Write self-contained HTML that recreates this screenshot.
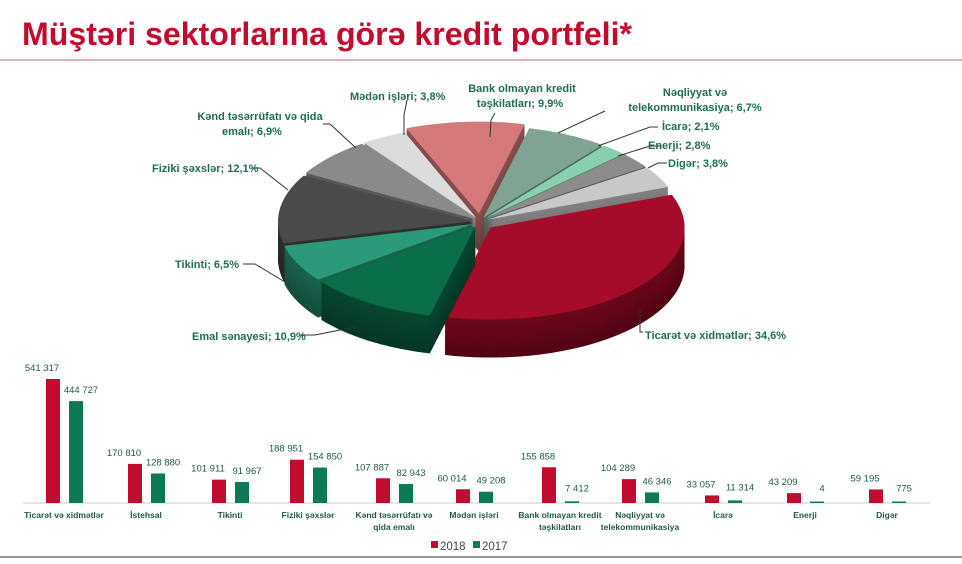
<!DOCTYPE html>
<html><head><meta charset="utf-8"><style>
body{margin:0;background:#fff;width:962px;height:559px;overflow:hidden;font-family:"Liberation Sans",sans-serif}
</style></head><body>
<svg id="s" width="962" height="559" xmlns="http://www.w3.org/2000/svg" font-family="Liberation Sans, sans-serif">
<text x="22" y="45" font-size="32" font-weight="bold" fill="#c00d2e" textLength="610" lengthAdjust="spacingAndGlyphs">Müştəri sektorlarına görə kredit portfeli*</text>
<line x1="0" y1="60" x2="962" y2="60" stroke="#c86070" stroke-width="1"/>
<line x1="0" y1="557" x2="962" y2="557" stroke="#999" stroke-width="2"/>
<g id="pie"></g>
<g stroke="#333" stroke-width="1" fill="none">
<polyline points="407,100 404,115 404,135"/>
<polyline points="495,113 491,120 490,137"/>
<polyline points="605,111 558,133"/>
<polyline points="658,127 650,127 598,146"/>
<polyline points="660,146 650,146 618,156"/>
<polyline points="667,163 658,163 648,168"/>
<polyline points="323,124 330,124 356,148"/>
<polyline points="252,168 260,168 288,190"/>
<polyline points="243,264 255,264 290,285"/>
<polyline points="300,335 315,335 355,327"/>
<polyline points="643,332 640,332 640,310"/>
</g>
<g font-size="11" font-weight="bold" fill="#1e6e4e">
<text x="350" y="100">Mədən işləri; 3,8%</text>
<text x="522" y="92" text-anchor="middle">Bank olmayan kredit</text>
<text x="520" y="107" text-anchor="middle">təşkilatları; 9,9%</text>
<text x="695" y="96" text-anchor="middle">Nəqliyyat və</text>
<text x="695" y="111" text-anchor="middle">telekommunikasiya; 6,7%</text>
<text x="662" y="130">İcarə; 2,1%</text>
<text x="648" y="149">Enerji;  2,8%</text>
<text x="668" y="167">Digər; 3,8%</text>
<text x="260" y="120" text-anchor="middle">Kənd təsərrüfatı  və qida</text>
<text x="252" y="135" text-anchor="middle">emalı; 6,9%</text>
<text x="152" y="172">Fiziki şəxslər; 12,1%</text>
<text x="175" y="268">Tikinti; 6,5%</text>
<text x="192" y="340">Emal sənayesi; 10,9%</text>
<text x="645" y="339">Ticarət və xidmətlər; 34,6%</text>
</g>
<line x1="23" y1="503" x2="930" y2="503" stroke="#ccc"/>
<g id="bars"></g>
<g font-size="11.5" fill="#444">
<rect x="431" y="541" width="7" height="7" fill="#c00d2e"/><text x="440" y="550">2018</text>
<rect x="473" y="541" width="7" height="7" fill="#0e7a55"/><text x="482" y="550">2017</text>
</g>
</svg>
<script>
var NS="http://www.w3.org/2000/svg";
function el(t,a,p){var e=document.createElementNS(NS,t);for(var k in a)e.setAttribute(k,a[k]);p.appendChild(e);return e;}
var pie=document.getElementById('pie');
var sl=[[9.9,'#d4797c',14],[6.7,'#7fa592',8],[2.1,'#88d0b0',8],[2.8,'#8c8c8c',8],[3.8,'#c8c8c8',8],[34.6,'#a50b2a',14],[10.9,'#0a6e4b',8],[6.5,'#2a9a78',8],[12.1,'#4a4a4a',8],[6.9,'#8a8a8a',8],[3.8,'#dcdcdc',8]];
var cx=480,cy=222,rx=194,ry=92,D=38,a=-112;
function dark(c,f){var n=parseInt(c.slice(1),16);var r=(n>>16)*f|0,g=((n>>8)&255)*f|0,b=(n&255)*f|0;return 'rgb('+r+','+g+','+b+')';}
var items=[];
sl.forEach(function(s){var a0=a,a1=a+s[0]*3.6;a=a1;var m=(a0+a1)/2*Math.PI/180;
var ox=Math.cos(m)*s[2],oy=Math.sin(m)*s[2]*0.6;items.push({a0:a0,a1:a1,ox:ox,oy:oy,c:s[1],my:Math.sin(m)});});
function path(it,dy){var x=cx+it.ox,y=cy+it.oy+dy;var d='M'+x+','+y;
for(var t=it.a0;t<=it.a1+0.01;t+=1){var r=t*Math.PI/180;d+=' L'+(x+rx*Math.cos(r))+','+(y+ry*Math.sin(r));}
var r=it.a1*Math.PI/180;d+=' L'+(x+rx*Math.cos(r))+','+(y+ry*Math.sin(r))+'Z';return d;}
items.slice().sort(function(p,q){return p.my-q.my;}).forEach(function(it){
for(var d=D;d>0;d-=1){el('path',{d:path(it,d),fill:dark(it.c,0.5+0.15*(1-d/D))},pie);}
el('path',{d:path(it,0),fill:it.c},pie);});
var bars=document.getElementById('bars');
var data=[["541 317","444 727",541317,444727,64,["Ticarət  və xidmətlər"]],["170 810","128 880",170810,128880,146,["İstehsal"]],["101 911","91 967",101911,91967,230,["Tikinti"]],["188 951","154 850",188951,154850,308,["Fiziki şəxslər"]],["107 887","82 943",107887,82943,394,["Kənd təsərrüfatı və","qida emalı"]],["60 014","49 208",60014,49208,474,["Mədən işləri"]],["155 858","7 412",155858,7412,560,["Bank olmayan  kredit","təşkilatları"]],["104 289","46 346",104289,46346,640,["Nəqliyyat  və","telekommunikasiya"]],["33 057","11 314",33057,11314,723,["İcarə"]],["43 209","4",43209,4,805,["Enerji"]],["59 195","775",59195,775,887,["Digər"]]];
var k=124/541317;
data.forEach(function(d){var c=d[4];var h1=Math.max(d[2]*k,1),h2=Math.max(d[3]*k,1.5);
el('rect',{x:c-18,y:503-h1,width:14,height:h1,fill:'#c00d2e'},bars);
el('rect',{x:c+5,y:503-h2,width:14,height:h2,fill:'#0e7a55'},bars);
var t=el('text',{x:c-22,y:503-h1-8,'font-size':'9.5',fill:'#1e5a44','text-anchor':'middle'},bars);t.textContent=d[0];
var y2=503-h2-8;if(d[3]<20000)y2=503-h2-10;
t=el('text',{x:c+17,y:y2,'font-size':'9.5',fill:'#1e5a44','text-anchor':'middle'},bars);t.textContent=d[1];
d[5].forEach(function(l,i){var t=el('text',{x:c,y:518+i*12,'font-size':'8.5','font-weight':'bold',fill:'#1e5a44','text-anchor':'middle'},bars);t.textContent=l;});
});
</script>
</body></html>
